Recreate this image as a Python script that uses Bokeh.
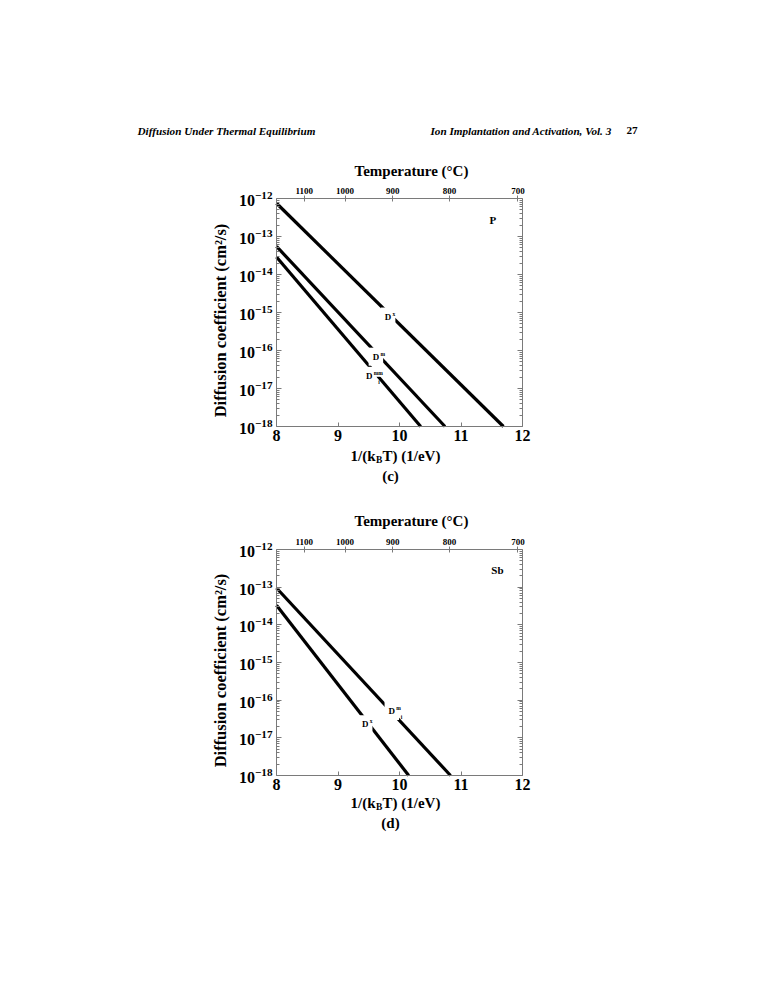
import numpy as np
from bokeh.plotting import figure
from bokeh.models import (LinearAxis, LogAxis, Range1d, FixedTicker, Label,
                          ColumnDataSource, LogTickFormatter)
from bokeh.layouts import column
from bokeh.embed import file_html
from bokeh.resources import INLINE

FONT = "Liberation Serif"
KB = 8.617e-5  # eV/K

# ---- data ----
temps_c = [1100, 1000, 900, 800, 700]          # top axis tick labels (deg C)
x_ticks = [8, 9, 10, 11, 12]                   # 1/(kB T) ticks
y_ticks = [1e-18, 1e-17, 1e-16, 1e-15, 1e-14, 1e-13, 1e-12]
X_LIM = (8, 12)
Y_LIM = (1e-18, 1e-12)

# panel (c): P
c_x0 = [8.0, 8.0, 8.0]
c_y0 = [7.5e-13, 5.5e-14, 2.9e-14]
c_x1 = [11.69, 10.74, 10.345]
c_y1 = [1e-18, 1e-18, 1e-18]

# panel (d): Sb
d_x0 = [8.0, 8.0]
d_y0 = [9.5e-14, 3.3e-14]
d_x1 = [10.83, 10.15]
d_y1 = [1e-18, 1e-18]

temp_x = [1.0 / (KB * (t + 273.15)) for t in temps_c]
minor_y = [m * 10.0 ** e for e in range(-18, -12) for m in range(2, 10)]

W = 772
FL, FR = 276, 522   # plot box left/right on page (px)


class Panel:
    def __init__(self, canvas_top, height, box_top, box_bot):
        self.ct, self.h, self.bt, self.bb = canvas_top, height, box_top, box_bot
        xs = (X_LIM[1] - X_LIM[0]) / (FR - FL)
        ly0, ly1 = np.log10(Y_LIM[0]), np.log10(Y_LIM[1])
        ys = (ly1 - ly0) / (box_bot - box_top)
        self.xs, self.ys, self.ly1 = xs, ys, ly1
        x_range = Range1d(X_LIM[0] - FL * xs, X_LIM[1] + (W - FR) * xs)
        y_range = Range1d(10 ** (ly0 - (canvas_top + height - box_bot) * ys),
                          10 ** (ly1 + (box_top - canvas_top) * ys))
        p = figure(width=W, height=height, output_backend="svg", toolbar_location=None,
                   x_axis_type=None, y_axis_type="log",
                   x_range=x_range, y_range=y_range, min_border=0)
        p.yaxis.visible = False
        p.left = []
        p.grid.visible = False
        p.outline_line_color = None
        p.background_fill_color = "white"
        p.border_fill_color = "white"
        self.p = p

        axcol = "#7a7a7a"
        common = dict(axis_line_color=axcol, major_tick_line_color=axcol,
                      minor_tick_line_color=axcol, major_label_text_color="black",
                      major_label_text_font=FONT, major_label_text_font_style="bold")
        la = LogAxis(ticker=FixedTicker(ticks=y_ticks, minor_ticks=minor_y),
                     formatter=LogTickFormatter(), fixed_location=X_LIM[0], bounds=Y_LIM,
                     major_label_text_font_size="16px", major_label_standoff=4,
                     major_tick_in=5, major_tick_out=0, minor_tick_in=3, minor_tick_out=0,
                     **common)
        ra = LogAxis(ticker=FixedTicker(ticks=y_ticks, minor_ticks=minor_y),
                     fixed_location=X_LIM[1], bounds=Y_LIM,
                     major_label_text_font_size="0px",
                     major_tick_in=5, major_tick_out=0, minor_tick_in=3, minor_tick_out=0,
                     **common)
        ra.major_label_text_color = None
        ba = LinearAxis(ticker=FixedTicker(ticks=x_ticks, minor_ticks=[]),
                        fixed_location=Y_LIM[0], bounds=X_LIM,
                        major_label_text_font_size="16px", major_label_standoff=3,
                        major_tick_in=4, major_tick_out=0, minor_tick_in=0, minor_tick_out=0,
                        **common)
        ta = LinearAxis(ticker=FixedTicker(ticks=temp_x, minor_ticks=[]),
                        fixed_location=Y_LIM[1], bounds=X_LIM,
                        major_label_overrides={tx: str(t) for tx, t in zip(temp_x, temps_c)},
                        major_label_text_font_size="9px", major_label_standoff=2,
                        major_tick_in=3, major_tick_out=3, minor_tick_in=0, minor_tick_out=0,
                        **common)
        p.add_layout(la, "left")
        p.add_layout(ra, "right")
        p.add_layout(ba, "below")
        p.add_layout(ta, "above")

    def lines(self, x0, y0, x1, y1):
        src = ColumnDataSource(dict(x0=x0, y0=y0, x1=x1, y1=y1))
        self.p.segment(x0="x0", y0="y0", x1="x1", y1="y1", source=src,
                       line_color="black", line_width=3.2)

    def lab(self, text, x, y, size, style="bold", align="center", baseline="middle",
            angle=0, bg=None, pad=0, xo=0, yo=0):
        kw = dict(x=x, y=y, text=text, x_units="data", y_units="data",
                  text_font=FONT, text_font_size=f"{size}px", text_font_style=style,
                  text_align=align, text_baseline=baseline, angle=angle,
                  text_color="black", x_offset=xo, y_offset=yo)
        if bg is not None:
            kw["background_fill_color"] = bg
            kw["padding"] = pad
        self.p.add_layout(Label(**kw))

    def page_lab(self, text, px, py, size, **kw):
        x = X_LIM[0] + (px - FL) * self.xs
        y = 10 ** (self.ly1 - (py - self.bt) * self.ys)
        self.lab(text, x, y, size, **kw)

    def titles(self, ytemp, yc, ytitle, ycap, cap):
        self.page_lab("Temperature (°C)", 411, ytemp, 15)
        self.page_lab("Diffusion coefficient (cm²/s)", 220, yc, 16.5, angle=np.pi / 2)
        self.page_lab("1/(k", 375, ytitle, 15, align="right")
        self.page_lab("B", 375.5, ytitle + 4, 9.5, align="left")
        self.page_lab("T) (1/eV)", 382, ytitle, 15, align="left")
        self.page_lab(cap, 390, ycap, 15)

    def line_labels(self, items):
        for (lx, ly, sup, sub) in items:
            self.lab("D", lx, ly, 9, bg="white", pad=4)
            self.lab(sup, lx, ly, 5.5, align="left", bg="white", pad=1, xo=3.5, yo=3)
            if sub:
                self.lab(sub, lx, ly, 5.5, align="left", xo=9, yo=-6)


# ---------------- panel (c) ----------------
P1 = Panel(0, 490, 198, 426)
P1.lines(c_x0, c_y0, c_x1, c_y1)
P1.page_lab("Diffusion Under Thermal Equilibrium", 137, 130, 11.2,
            style="bold italic", align="left")
P1.page_lab("Ion Implantation and Activation, Vol. 3", 430, 130, 11.2,
            style="bold italic", align="left")
P1.page_lab("27", 626, 130, 11.2, align="left")
P1.titles(170, 320, 455, 475, "(c)")
P1.lab("P", 11.52, 10 ** -12.57, 11)
P1.line_labels([(9.815, 10 ** -15.106, "x", ""),
                (9.616, 10 ** -16.163, "m", "i"),
                (9.507, 10 ** -16.666, "mm", "i")])

# ---------------- panel (d) ----------------
P2 = Panel(490, 350, 549, 775)
P2.lines(d_x0, d_y0, d_x1, d_y1)
P2.titles(520, 670, 802, 822, "(d)")
P2.lab("Sb", 11.593, 10 ** -12.54, 11)
P2.line_labels([(9.875, 10 ** -16.287, "m", "i"),
                (9.442, 10 ** -16.639, "x", "")])

layout = column(P1.p, P2.p, spacing=0)
open("out.html", "w").write(file_html(layout, INLINE))
